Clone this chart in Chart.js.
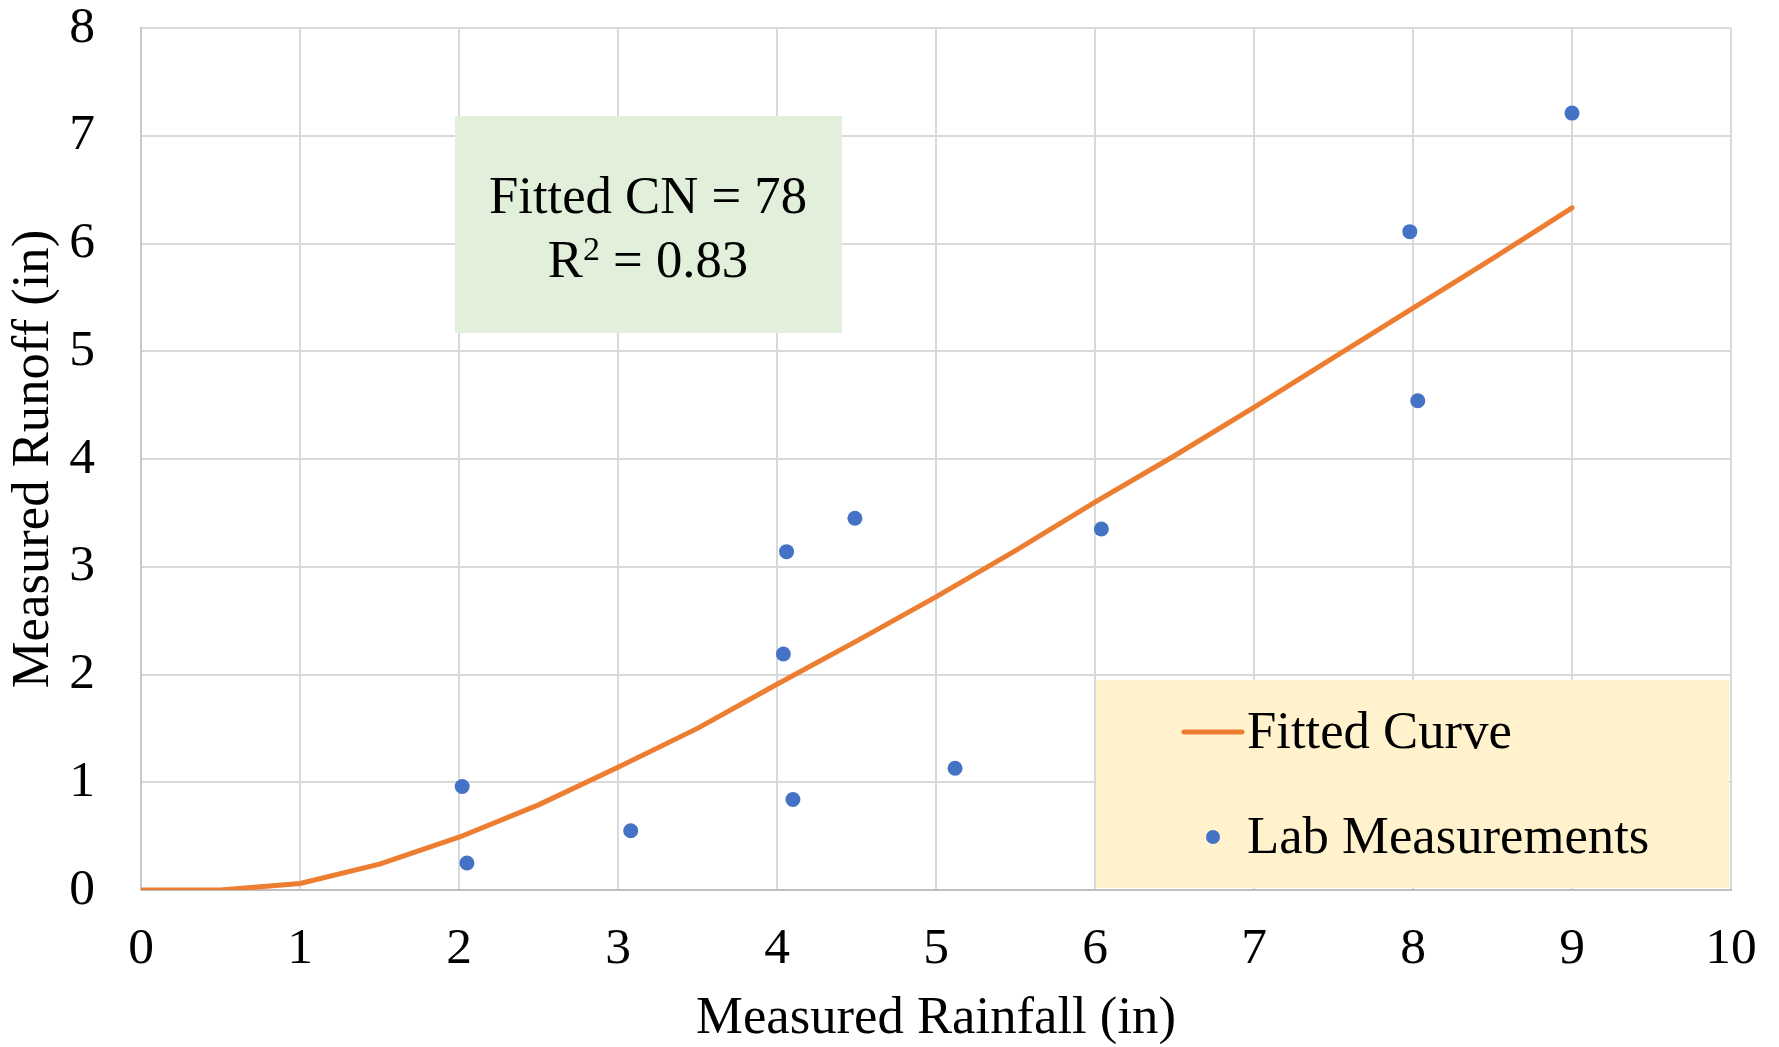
<!DOCTYPE html>
<html>
<head>
<meta charset="utf-8">
<script src="https://cdn.jsdelivr.net/npm/chart.js@4/dist/chart.umd.min.js"></script>
<style>
  html, body { margin: 0; padding: 0; background: #ffffff; }
  #wrap { width: 1779px; height: 1047px; }
</style>
</head>
<body>
<div id="wrap"><canvas id="c" width="1779" height="1047"></canvas></div>
<script>
// ---- Data ----
const curveRainfall = [0, 0.5, 1, 1.5, 2, 2.5, 3, 3.5, 4, 4.5, 5, 5.5, 6, 6.5, 7, 7.5, 8, 8.5, 9];
const curveRunoff   = [0, 0, 0.06, 0.24, 0.49, 0.79, 1.14, 1.50, 1.91, 2.31, 2.72, 3.15, 3.60, 4.03, 4.48, 4.94, 5.40, 5.86, 6.33];

const labRainfall = [2.02, 2.05, 3.08, 4.04, 4.06, 4.10, 4.49, 5.12, 6.04, 7.98, 8.03, 9.00];
const labRunoff   = [0.96, 0.25, 0.55, 2.19, 3.14, 0.84, 3.45, 1.13, 3.35, 6.11, 4.54, 7.21];

const xTicks = [0, 1, 2, 3, 4, 5, 6, 7, 8, 9, 10];
const yTicks = [0, 1, 2, 3, 4, 5, 6, 7, 8];

const seriesNames = ['Fitted Curve', 'Lab Measurements'];
const xTitle = 'Measured Rainfall (in)';
const yTitle = 'Measured Runoff (in)';
const annotationLine1 = 'Fitted CN = 78';
const annotationR = 'R';
const annotationSup = '2';
const annotationRest = ' = 0.83';

// ---- Styles ----
const FONT = "'Liberation Serif', 'Times New Roman', serif";
const TEXT_SIZE = 52.7;
const ORANGE = '#ED7D31';
const BLUE = '#4472C4';
const GRID = '#D9D9D9';

const curvePoints = curveRainfall.map((x, i) => ({ x: x, y: curveRunoff[i] }));
const labPoints = labRainfall.map((x, i) => ({ x: x, y: labRunoff[i] }));

function clearScalePadding(scale) {
  scale.paddingTop = 0;
  scale.paddingBottom = 0;
  scale.paddingLeft = 0;
  scale.paddingRight = 0;
}

const overlayPlugin = {
  id: 'overlays',
  beforeDatasetsDraw(chart) {
    const ctx = chart.ctx;
    const big = TEXT_SIZE + 'px ' + FONT;
    const small = '34px ' + FONT;
    ctx.save();
    // Annotation box (green)
    ctx.fillStyle = '#E2EFDA';
    ctx.fillRect(455, 116, 387, 217);
    ctx.fillStyle = '#000000';
    ctx.textBaseline = 'alphabetic';
    ctx.font = big;
    ctx.textAlign = 'center';
    ctx.fillText(annotationLine1, 648, 213);
    // R^2 line
    ctx.textAlign = 'left';
    ctx.font = big;
    const wR = ctx.measureText(annotationR).width;
    const wRest = ctx.measureText(annotationRest).width;
    ctx.font = small;
    const wSup = ctx.measureText(annotationSup).width;
    const total = wR + wSup + wRest;
    const sx = 648 - total / 2;
    ctx.font = big;
    ctx.fillText(annotationR, sx, 277);
    ctx.font = small;
    ctx.fillText(annotationSup, sx + wR, 260);
    ctx.font = big;
    ctx.fillText(annotationRest, sx + wR + wSup, 277);

    // Legend box (yellow)
    ctx.fillStyle = '#FFF2CC';
    ctx.fillRect(1096, 680, 1729 - 1096, 888 - 680);
    // Fitted curve symbol
    ctx.strokeStyle = ORANGE;
    ctx.lineWidth = 5;
    ctx.lineCap = 'round';
    ctx.beginPath();
    ctx.moveTo(1184, 732);
    ctx.lineTo(1242, 732);
    ctx.stroke();
    // Lab measurement symbol
    ctx.fillStyle = BLUE;
    ctx.beginPath();
    ctx.arc(1213, 837, 7, 0, Math.PI * 2);
    ctx.fill();
    // Legend text
    ctx.fillStyle = '#000000';
    ctx.font = big;
    ctx.textAlign = 'left';
    ctx.fillText(seriesNames[0], 1247, 748);
    ctx.fillText(seriesNames[1], 1247, 853);
    ctx.restore();
  }
};

new Chart(document.getElementById('c'), {
  type: 'scatter',
  data: {
    datasets: [
      {
        label: seriesNames[1],
        data: labPoints,
        backgroundColor: BLUE,
        borderColor: BLUE,
        borderWidth: 0,
        pointRadius: 7.5,
        pointHoverRadius: 7.5,
        order: 0
      },
      {
        label: seriesNames[0],
        data: curvePoints,
        showLine: true,
        borderColor: ORANGE,
        backgroundColor: ORANGE,
        borderWidth: 5,
        borderCapStyle: 'round',
        borderJoinStyle: 'round',
        pointRadius: 0,
        pointHoverRadius: 0,
        tension: 0,
        order: 1
      }
    ]
  },
  options: {
    responsive: false,
    devicePixelRatio: 1,
    animation: false,
    layout: { padding: { top: 28, right: 48, bottom: 0, left: 0 } },
    plugins: {
      legend: { display: false },
      tooltip: { enabled: false }
    },
    scales: {
      x: {
        type: 'linear',
        min: 0,
        max: 10,
        afterBuildTicks: (scale) => { scale.ticks = xTicks.map(v => ({ value: v })); },
        afterFit: (scale) => { scale.height = 157; clearScalePadding(scale); },
        ticks: {
          padding: 34,
          color: '#000000',
          font: { family: FONT, size: 51.5, lineHeight: 1 },
          maxRotation: 0,
          autoSkip: false
        },
        grid: { color: GRID, lineWidth: 2, drawTicks: false },
        border: { display: true, color: '#BFBFBF', width: 2 },
        title: {
          display: true,
          text: xTitle,
          color: '#000000',
          font: { family: FONT, size: TEXT_SIZE, lineHeight: 1 },
          padding: { top: 0, bottom: 1 }
        }
      },
      y: {
        type: 'linear',
        min: 0,
        max: 8,
        afterBuildTicks: (scale) => { scale.ticks = yTicks.map(v => ({ value: v })); },
        afterFit: (scale) => { scale.width = 141; clearScalePadding(scale); },
        ticks: {
          padding: 46,
          color: '#000000',
          font: { family: FONT, size: 51.5, lineHeight: 1 },
          autoSkip: false
        },
        grid: { color: GRID, lineWidth: 2, drawTicks: false },
        border: { display: true, color: '#C8C8C8', width: 2 },
        title: {
          display: true,
          text: yTitle,
          color: '#000000',
          font: { family: FONT, size: TEXT_SIZE, lineHeight: 1 },
          padding: { top: 8, bottom: 0 }
        }
      }
    }
  },
  plugins: [overlayPlugin]
});
</script>
</body>
</html>
